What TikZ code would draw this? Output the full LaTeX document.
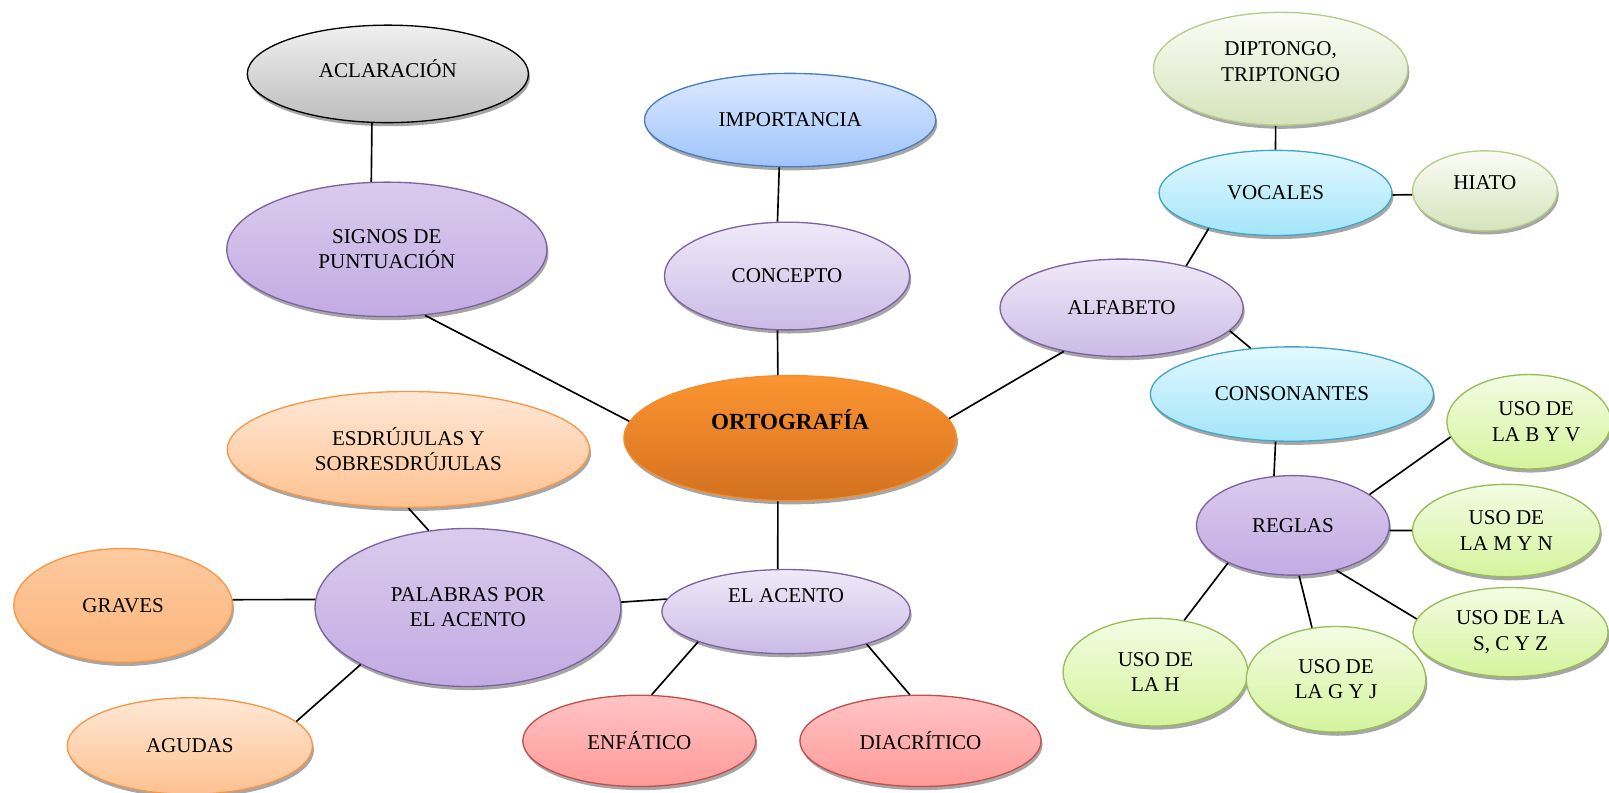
\documentclass[tikz,border=0pt]{standalone}
\usepackage{fontspec}
\setmainfont{Liberation Serif}
\usetikzlibrary{shapes.geometric,shadows}
\definecolor{purBorder}{HTML}{7F63A1}
\definecolor{purAtop}{HTML}{DACBED}
\definecolor{purAbot}{HTML}{C2ABE3}
\definecolor{purBtop}{HTML}{EFE9F8}
\definecolor{purBbot}{HTML}{CCBBE6}
\definecolor{grayTop}{HTML}{F0F0F0}
\definecolor{grayBot}{HTML}{BDBDBD}
\definecolor{bluTop}{HTML}{DCE9FF}
\definecolor{bluBot}{HTML}{9FC4FB}
\definecolor{bluBorder}{HTML}{4A7EBB}
\definecolor{orTop}{HTML}{FB9431}
\definecolor{orBot}{HTML}{D4711F}
\definecolor{orBorder}{HTML}{F08F30}
\definecolor{lorTop}{HTML}{FFE8D6}
\definecolor{lorBot}{HTML}{FDC190}
\definecolor{lorBorder}{HTML}{F79646}
\definecolor{gvTop}{HTML}{FDCA9F}
\definecolor{gvBot}{HTML}{FBB57B}
\definecolor{cyTop}{HTML}{E2F8FF}
\definecolor{cyBot}{HTML}{A3E5F9}
\definecolor{cyBorder}{HTML}{45A5C6}
\definecolor{lgTop}{HTML}{FBFCF6}
\definecolor{lgBot}{HTML}{D6E3BC}
\definecolor{lgBorder}{HTML}{B5CD88}
\definecolor{bgTop}{HTML}{F3FCE3}
\definecolor{bgBot}{HTML}{D4F49C}
\definecolor{bgBorder}{HTML}{9BBB59}
\definecolor{pkTop}{HTML}{FFC4C4}
\definecolor{pkBot}{HTML}{FF9999}
\definecolor{pkBorder}{HTML}{C0504D}
\begin{document}
\begin{tikzpicture}[x=1pt,y=-1pt,
  ell/.style={ellipse, inner sep=0pt, align=center, line width=1.3pt,
    font=\fontsize{20.5}{24.5}\selectfont,
    drop shadow={shadow xshift=1.5pt,shadow yshift=-3.5pt,fill=black!50,opacity=0.7}},
  sz/.style 2 args={minimum width=#1pt, minimum height=#2pt},
  purA/.style={ell, draw=purBorder, top color=purAtop, bottom color=purAbot},
  purB/.style={ell, draw=purBorder, top color=purBtop, bottom color=purBbot},
  grayell/.style={ell, draw=black, top color=grayTop, bottom color=grayBot},
  bluell/.style={ell, draw=bluBorder, top color=bluTop, bottom color=bluBot},
  orell/.style={ell, draw=orBorder, top color=orTop, bottom color=orBot},
  lorell/.style={ell, draw=lorBorder, top color=lorTop, bottom color=lorBot},
  gvell/.style={ell, draw=lorBorder, top color=gvTop, bottom color=gvBot},
  cyell/.style={ell, draw=cyBorder, top color=cyTop, bottom color=cyBot},
  lgell/.style={ell, draw=lgBorder, top color=lgTop, bottom color=lgBot},
  bgell/.style={ell, draw=bgBorder, top color=bgTop, bottom color=bgBot},
  pkell/.style={ell, draw=pkBorder, top color=pkTop, bottom color=pkBot},
  txt/.style={font=\fontsize{20.5}{24.5}\selectfont, align=center, inner sep=0pt},
  conn/.style={line width=1.6pt, black}]
\useasboundingbox (0,0) rectangle (1568,772);

% nodes
\node[grayell, sz={274}{95}, label={[txt,yshift=5pt]center:ACLARACIÓN}] (acl) at (378,72) {};
\node[bluell, sz={284}{91}] (imp) at (770,117) {IMPORTANCIA};
\node[purA, sz={312}{131}] (sig) at (377,243) {SIGNOS DE\\PUNTUACIÓN};
\node[purB, sz={239}{105}] (con) at (767,269) {CONCEPTO};
\node[orell, sz={324}{122}, label={[font=\fontsize{22.5}{27}\selectfont\bfseries,yshift=18pt]center:ORTOGRAFÍA}] (ort) at (770,427) {};
\node[purB, sz={237}{95}] (alf) at (1093,300) {ALFABETO};
\node[lgell, sz={248}{110}, label={[txt,yshift=7pt]center:DIPTONGO,\\TRIPTONGO}] (dip) at (1248,67) {};
\node[cyell, sz={227}{83}] (voc) at (1243,188) {VOCALES};
\node[lgell, sz={141}{78}, label={[txt,yshift=8pt]center:HIATO}] (hia) at (1447,186) {};
\node[cyell, sz={276}{92}] (cns) at (1259,384) {CONSONANTES};
\node[bgell, sz={160}{92}, label={[txt,xshift=7pt]center:USO DE\\LA B Y V}] (byv) at (1490,411) {};
\node[purA, sz={188}{97}] (reg) at (1260,512) {REGLAS};
\node[bgell, sz={183}{90}] (myn) at (1468,517) {USO DE\\LA M Y N};
\node[bgell, sz={190}{87}] (scz) at (1472,616) {USO DE LA\\S, C Y Z};
\node[bgell, sz={180}{105}] (ush) at (1126,655) {USO DE\\LA H};
\node[bgell, sz={175}{103}] (gyj) at (1302,662) {USO DE\\LA G Y J};
\node[lorell, sz={353}{113}] (esd) at (398,438) {ESDRÚJULAS Y\\SOBRESDRÚJULAS};
\node[purA, sz={298}{154}] (pal) at (456,592) {PALABRAS POR\\EL ACENTO};
\node[gvell, sz={213}{111}] (gra) at (120,590) {GRAVES};
\node[lorell, sz={239}{94}] (agu) at (185,727) {AGUDAS};
\node[purB, sz={242}{82}, label={[txt,yshift=16pt]center:EL ACENTO}] (ace) at (766,596) {};
\node[pkell, sz={227}{89}] (enf) at (623,722) {ENFÁTICO};
\node[pkell, sz={235}{89}] (dia) at (897,722) {DIACRÍTICO};

% connectors
\draw[conn] (acl.-108) -- (sig.103);
\draw[conn] (sig.-60) -- (ort.174);
\draw[conn] (imp.-103) -- (con.100);
\draw[conn] (con.-100) -- (ort.101);
\draw[conn] (ort.7) -- (alf.-143);
\draw[conn] (alf.33) -- (voc.-152);
\draw[conn] (dip.-95) -- (voc.90);
\draw[conn] (voc.-1) -- (hia.-177);
\draw[conn] (alf.-12) -- (cns.132);
\draw[conn] (cns.-109) -- (reg.111);
\draw[conn] (reg.22) -- (byv.-169);
\draw[conn] (reg.-3) -- (myn.180);
\draw[conn] (reg.-46) -- (scz.172);
\draw[conn] (reg.-150) -- (ush.61);
\draw[conn] (reg.-83) -- (gyj.115);
\draw[conn] (ort.-101) -- (ace.101);
\draw[conn] (pal.2.7) -- (ace.174);
\draw[conn] (pal.117) -- (esd.-90);
\draw[conn] (pal.177) -- (gra.3);
\draw[conn] (pal.-152) -- (agu.13);
\draw[conn] (ace.-161) -- (enf.75);
\draw[conn] (ace.-22) -- (dia.103);
\end{tikzpicture}
\end{document}
